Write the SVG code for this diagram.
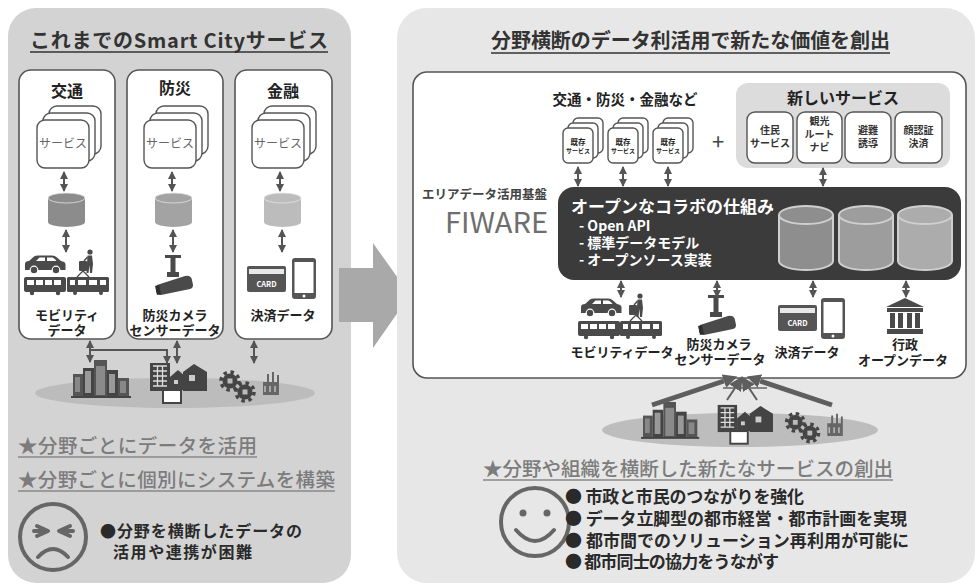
<svg xmlns="http://www.w3.org/2000/svg" width="980" height="585" viewBox="0 0 980 585">
<defs>
<style>
text { font-family: 'Noto Sans CJK JP', 'Noto Sans', sans-serif; }
.h { font-size: 20px; font-weight: 700; fill: #333; }
.ul { stroke: #333; stroke-width: 1.5; }
.ul2 { stroke: #888; stroke-width: 1.5; }
.sub { font-size: 19.5px; font-weight: 500; fill: #7c7c7c; }
.col { fill: #fff; stroke: #555; stroke-width: 1.6; }
.colh { font-size: 16px; font-weight: 700; fill: #222; text-anchor: middle; }
.svc { fill: #fff; stroke: #555; stroke-width: 1.4; }
.svct { font-size: 12px; fill: #666; text-anchor: middle; }
.lbl { font-size: 13px; font-weight: 700; fill: #222; text-anchor: middle; }
.dbl { stroke: #555; stroke-width: 2; fill: none; marker-start: url(#ah); marker-end: url(#ah); }
.one { stroke: #555; stroke-width: 2; fill: none; marker-end: url(#ah); }
.ico { fill: #4a4a4a; }
.nsv { font-size: 10px; font-weight: 700; fill: #333; text-anchor: middle; }
.wt { fill: #fff; font-weight: 700; }
.bul { font-size: 17px; font-weight: 700; fill: #2a2a2a; }
.face { fill: none; stroke: #666; stroke-width: 4; stroke-linecap: round; stroke-linejoin: round; }
</style>
<marker id="ah" viewBox="0 0 8 8" refX="7" refY="4" markerWidth="8" markerHeight="8" markerUnits="userSpaceOnUse" orient="auto-start-reverse">
<path d="M0,0 L8,4 L0,8 Z" fill="#555"/>
</marker>
<marker id="big" viewBox="0 -7 14 14" refX="0" refY="0" markerWidth="14" markerHeight="14" markerUnits="userSpaceOnUse" orient="auto">
<path d="M0,-7 L14,0 L0,7 Z" fill="#5e5e5e"/>
</marker>

<!-- stacked service cards, left panel -->
<g id="stackL">
<rect x="12" y="-14" width="52" height="48" rx="8" class="svc"/>
<rect x="6" y="-7" width="52" height="48" rx="8" class="svc"/>
<rect x="0" y="0" width="52" height="48" rx="8" class="svc"/>
<text x="26" y="28" class="svct">サービス</text>
</g>
<!-- small stacked cards, right panel -->
<g id="stackR">
<rect x="10" y="-10" width="30" height="35" rx="5" class="svc"/>
<rect x="5" y="-5" width="30" height="35" rx="5" class="svc"/>
<rect x="0" y="0" width="30" height="35" rx="5" class="svc"/>
<text font-weight="700" fill="#222" text-anchor="middle"><tspan x="15" y="17" font-size="7.5">既存</tspan><tspan x="15" y="25" font-size="6">サービス</tspan></text>
</g>

<!-- database cylinder, 37 x 34 -->
<g id="cyl">
<path d="M0,5 L0,29 A18.5,5 0 0 0 37,29 L37,5 Z"/>
<ellipse cx="18.5" cy="5" rx="18.5" ry="5" stroke="#e4e4e4" stroke-width="0.8"/>
</g>
<!-- large cylinder, 56 x 66 -->
<g id="cylB">
<path d="M1,10 L1,56 A27,9 0 0 0 55,56 L55,10" stroke="#cfcfcf" stroke-width="2"/>
<ellipse cx="28" cy="10" rx="27" ry="9" stroke="#cfcfcf" stroke-width="2"/>
</g>

<g id="car">
<path d="M1,15 L1,9 Q1,6 5,6 L10,1.5 Q11.5,0.5 14,0.5 L28,0.5 Q31,0.5 33,2.5 L37,6 Q41,6.5 41.5,9 L41.5,15 Z" class="ico"/>
<path d="M12,6 L15.5,2.5 L21,2.5 L21,6 Z M23,6 L23,2.5 L28,2.5 Q30,2.5 32.5,6 Z" fill="#fff"/>
<circle cx="10" cy="15" r="3.8" class="ico" stroke="#fff" stroke-width="1.2"/>
<circle cx="32" cy="15" r="3.8" class="ico" stroke="#fff" stroke-width="1.2"/>
</g>
<g id="person">
<circle cx="12" cy="3" r="2.6" class="ico"/>
<path d="M9.5,6.5 L14,6.5 L15,15 L14,24 L12,24 L11.5,16 L10.5,24 L8.5,24 L9,14 Z" class="ico"/>
<path d="M9.5,8 L6,12" stroke="#4a4a4a" stroke-width="1.5"/>
<rect x="1" y="12" width="8" height="10" rx="1" class="ico"/>
</g>
<g id="bus">
<rect x="0" y="0" width="42" height="15" rx="2" class="ico"/>
<rect x="3" y="3" width="7" height="5" fill="#fff"/>
<rect x="12" y="3" width="7" height="5" fill="#fff"/>
<rect x="21" y="3" width="7" height="5" fill="#fff"/>
<rect x="30" y="3" width="7" height="5" fill="#fff"/>
<circle cx="8" cy="16" r="2.2" class="ico"/>
<circle cx="34" cy="16" r="2.2" class="ico"/>
</g>
<g id="train">
<path d="M10,0 L16,-6 L22,0" stroke="#4a4a4a" stroke-width="1.3" fill="none"/>
<rect x="0" y="0" width="42" height="15" rx="1.5" class="ico"/>
<rect x="3" y="3" width="5" height="5" fill="#fff"/>
<rect x="11" y="3" width="8" height="5" fill="#fff"/>
<rect x="22" y="3" width="8" height="5" fill="#fff"/>
<rect x="33" y="3" width="6" height="5" fill="#fff"/>
<circle cx="8" cy="16" r="2" class="ico"/>
<circle cx="34" cy="16" r="2" class="ico"/>
</g>
<g id="camera">
<rect x="10" y="0" width="16" height="3" class="ico"/>
<rect x="15.5" y="3" width="5" height="15" class="ico"/>
<rect x="12" y="17" width="12" height="5" class="ico"/>
<path d="M2,30 L30,21 Q36,20 37,25 L38,30 Q38,33 35,34 L6,40 Q2,40 1,36 Z" class="ico"/>
<path d="M0,31 L4,30 L6,39 L2,40 Z" fill="#2e2e2e"/>
</g>
<g id="card">
<rect x="0" y="0" width="39" height="26" rx="2" fill="#555"/>
<rect x="2" y="3" width="35" height="5" fill="#e8e8e8"/>
<text x="19.5" y="21" font-size="7.5" text-anchor="middle" class="wt" font-family="'Liberation Sans', sans-serif">CARD</text>
</g>
<g id="phone">
<rect x="0" y="0" width="24" height="41" rx="3" fill="#555"/>
<rect x="2.5" y="4" width="19" height="31" fill="#fff"/>
<circle cx="12" cy="38" r="1.5" fill="#fff"/>
</g>
<g id="bank">
<path d="M19,0 L38,9 L0,9 Z" class="ico"/>
<rect x="1" y="10" width="36" height="4" class="ico"/>
<rect x="4" y="15" width="5" height="15" class="ico"/>
<rect x="12" y="15" width="5" height="15" class="ico"/>
<rect x="21" y="15" width="5" height="15" class="ico"/>
<rect x="29" y="15" width="5" height="15" class="ico"/>
<rect x="1" y="31" width="36" height="5" class="ico"/>
</g>
<g id="gear">
<circle r="7.5" fill="#444"/>
<circle r="9" fill="none" stroke="#444" stroke-width="3.5" stroke-dasharray="3.5 3.6"/>
<rect x="-2.5" y="-2.5" width="5" height="5" fill="#bbb"/>
</g>
<!-- town skyline: towers, office, houses, factory -->
<g id="city">
<rect x="0" y="14" width="10" height="23" fill="#555"/>
<rect x="2" y="17" width="5" height="15" fill="#888"/>
<rect x="10" y="8" width="11" height="29" fill="#444"/>
<rect x="12" y="11" width="6" height="22" fill="#999"/>
<rect x="21" y="0" width="13" height="37" fill="#555"/>
<rect x="23" y="6" width="9" height="29" fill="#8a8a8a"/>
<rect x="34" y="10" width="11" height="27" fill="#444"/>
<rect x="36" y="14" width="6" height="19" fill="#999"/>
<rect x="45" y="18" width="11" height="19" fill="#555"/>
<rect x="47" y="21" width="6" height="12" fill="#888"/>
<rect x="-2" y="36" width="60" height="2" fill="#444"/>
<rect x="77" y="3" width="20" height="28" fill="#444"/>
<path d="M80,6 h14 M80,11 h14 M80,16 h14 M80,21 h14 M80,26 h14 M84.5,6 v20 M89.5,6 v20" stroke="#ddd" stroke-width="1.3"/>
<rect x="90" y="30" width="18" height="13" fill="#fff" stroke="#444" stroke-width="2"/>
<path d="M97,17 L105,10 L113,17 L113,30 L97,30 Z" fill="#444"/>
<rect x="101" y="20" width="4" height="4" fill="#ccc"/>
<path d="M110,12 L121,4 L134,12 L134,31 L110,31 Z" fill="#444"/>
<rect x="116" y="15" width="6" height="6" fill="#ccc"/>
<use href="#gear" x="157" y="21"/>
<use href="#gear" x="172" y="32"/>
<path d="M190,35 L190,22 L194,22 L194,14 L196,14 L196,22 L199,22 L199,12 L201,12 L201,22 L204,22 L204,15 L206,15 L206,35 Z" fill="#666"/>
<path d="M192,26 v6 M197,26 v6 M202,26 v6" stroke="#ccc" stroke-width="1.3"/>
</g>
</defs>

<rect width="980" height="585" fill="#fff"/>

<!-- left panel: current services -->
<g id="panel-current">
<rect x="8" y="8" width="343" height="575" rx="28" fill="#d3d3d3"/>
<text x="30" y="48" class="h" textLength="298">これまでのSmart Cityサービス</text>
<line x1="30" y1="52" x2="328" y2="52" class="ul"/>
</g>

<g id="col-transport">
<rect x="19" y="70" width="96" height="269" rx="12" class="col"/>
<text x="67" y="97" class="colh">交通</text>
<use href="#stackL" x="37" y="120"/>
<use href="#cyl" x="48" y="193" fill="#8c8c8c"/>
<use href="#car" x="24" y="255"/>
<use href="#person" x="78" y="249"/>
<use href="#bus" x="24" y="277"/>
<use href="#train" x="67" y="277"/>
<text class="lbl"><tspan x="67" y="320">モビリティ</tspan><tspan x="67" y="335">データ</tspan></text>
</g>

<g id="col-disaster">
<rect x="127" y="70" width="96" height="269" rx="12" class="col"/>
<text x="175" y="94" class="colh">防災</text>
<use href="#stackL" x="144" y="120"/>
<use href="#cyl" x="155" y="193" fill="#a3a3a3"/>
<use href="#camera" x="155" y="255"/>
<text class="lbl"><tspan x="175" y="320">防災カメラ</tspan><tspan x="175" y="335">センサーデータ</tspan></text>
</g>

<g id="col-finance">
<rect x="235" y="70" width="97" height="269" rx="12" class="col"/>
<text x="283" y="97" class="colh">金融</text>
<use href="#stackL" x="252" y="120"/>
<use href="#cyl" x="264" y="193" fill="#bcbcbc"/>
<use href="#card" x="247" y="266"/>
<use href="#phone" x="292" y="258"/>
<text x="283" y="320" class="lbl">決済データ</text>
</g>

<g id="town-left">
<ellipse cx="175" cy="393" rx="140" ry="15" fill="#bcbcbc"/>
<use href="#city" x="73" y="360"/>
</g>

<g id="notes-current">
<text x="18" y="453" class="sub" textLength="239">★分野ごとにデータを活用</text>
<line x1="18" y1="457" x2="257" y2="457" class="ul2"/>
<text x="18" y="487" class="sub" textLength="317">★分野ごとに個別にシステムを構築</text>
<line x1="18" y1="491" x2="335" y2="491" class="ul2"/>
<circle cx="53" cy="537" r="33" class="face"/>
<path d="M37,526 L48,531 L37,536 M34,531 L44,531" class="face" stroke-width="3.5"/>
<path d="M70,526 L59,531 L70,536 M73,531 L63,531" class="face" stroke-width="3.5"/>
<path d="M38,557 Q53,541 68,557" class="face"/>
<text font-size="16" font-weight="700" fill="#2a2a2a"><tspan x="100" y="537" textLength="202">●分野を横断したデータの</tspan><tspan x="113" y="558" textLength="139">活用や連携が困難</tspan></text>
</g>

<!-- transition arrow -->
<polygon id="shift-arrow" points="339,268 373,268 373,243 410,295 373,348 373,322 339,322" fill="#a9a9a9"/>

<!-- right panel: cross-domain platform -->
<g id="panel-future">
<rect x="397" y="8" width="578" height="575" rx="30" fill="#e7e7e7"/>
<text x="491" y="48" class="h" textLength="399">分野横断のデータ利活用で新たな価値を創出</text>
<line x1="491" y1="53" x2="890" y2="53" class="ul"/>
<rect x="413" y="72" width="553" height="306" rx="14" class="col"/>
</g>

<g id="existing-services">
<text x="625" y="105" font-size="14.5" font-weight="700" fill="#222" text-anchor="middle">交通・防災・金融など</text>
<use href="#stackR" x="563" y="128"/>
<use href="#stackR" x="608" y="128"/>
<use href="#stackR" x="653" y="128"/>
<text x="718" y="150" font-size="22" fill="#444" text-anchor="middle" font-family="'Liberation Sans', sans-serif">+</text>
</g>

<g id="new-services">
<rect x="736" y="83" width="214" height="85" rx="12" fill="#dcdcdc"/>
<text x="843" y="104" font-size="16" font-weight="700" fill="#222" text-anchor="middle">新しいサービス</text>
<rect x="747" y="112" width="46" height="51" rx="8" class="svc"/>
<text class="nsv"><tspan x="770" y="134">住民</tspan><tspan x="770" y="147">サービス</tspan></text>
<rect x="797" y="112" width="45" height="51" rx="8" class="svc"/>
<text class="nsv"><tspan x="819.5" y="125">観光</tspan><tspan x="819.5" y="138">ルート</tspan><tspan x="819.5" y="151">ナビ</tspan></text>
<rect x="845" y="112" width="46" height="51" rx="8" class="svc"/>
<text class="nsv"><tspan x="868" y="134">避難</tspan><tspan x="868" y="147">誘導</tspan></text>
<rect x="895" y="112" width="47" height="51" rx="8" class="svc"/>
<text class="nsv"><tspan x="918.5" y="134">顔認証</tspan><tspan x="918.5" y="147">決済</tspan></text>
</g>

<g id="fiware">
<text x="547" y="199" font-size="12.5" font-weight="700" fill="#444" text-anchor="end" textLength="125">エリアデータ活用基盤</text>
<text x="548" y="233" font-size="29" fill="#6e6e6e" text-anchor="end" font-family="'Liberation Sans', sans-serif">FIWARE</text>
<rect x="558" y="187" width="403" height="93" rx="16" fill="#3b3b3b"/>
<text class="wt"><tspan x="571" y="213" font-size="17">オープンなコラボの仕組み</tspan><tspan x="579" y="231" font-size="14">- Open API</tspan><tspan x="579" y="248" font-size="14">- 標準データモデル</tspan><tspan x="579" y="265" font-size="14">- オープンソース実装</tspan></text>
<use href="#cylB" x="778" y="205" fill="#8e8e8e"/>
<use href="#cylB" x="838" y="205" fill="#9d9d9d"/>
<use href="#cylB" x="897" y="205" fill="#acacac"/>
</g>

<g id="data-sources">
<use href="#car" x="580" y="298"/>
<use href="#person" x="628" y="293"/>
<use href="#bus" x="578" y="321"/>
<use href="#train" x="620" y="321"/>
<text x="622" y="357" class="lbl">モビリティデータ</text>
<use href="#camera" x="698" y="295"/>
<text class="lbl"><tspan x="719" y="349">防災カメラ</tspan><tspan x="720" y="364">センサーデータ</tspan></text>
<use href="#card" x="778" y="305"/>
<use href="#phone" x="821" y="298"/>
<text x="807" y="357" class="lbl">決済データ</text>
<use href="#bank" x="886" y="298"/>
<text class="lbl"><tspan x="905" y="349">行政</tspan><tspan x="903" y="365">オープンデータ</tspan></text>
</g>

<g id="town-right">
<ellipse cx="740" cy="430" rx="138" ry="17" fill="#bdbdbd"/>
<use href="#city" transform="translate(643,402) scale(0.97)"/>
</g>

<g id="notes-future">
<text x="483" y="476" class="sub" textLength="410">★分野や組織を横断した新たなサービスの創出</text>
<line x1="483" y1="480" x2="893" y2="480" class="ul2"/>
<circle cx="535" cy="522" r="34" class="face"/>
<circle cx="523" cy="513" r="3.5" fill="#666"/>
<circle cx="547" cy="513" r="3.5" fill="#666"/>
<path d="M516,530 Q535,552 554,530" class="face"/>
<text class="bul"><tspan x="565" y="503" textLength="239">● 市政と市民のつながりを強化</tspan><tspan x="565" y="525" textLength="342">● データ立脚型の都市経営・都市計画を実現</tspan><tspan x="565" y="547" textLength="344">● 都市間でのソリューション再利用が可能に</tspan><tspan x="565" y="568" textLength="214">● 都市同士の協力をうながす</tspan></text>
</g>

<g id="connectors">
<!-- left panel -->
<line x1="64" y1="172" x2="64" y2="191" class="dbl"/>
<line x1="172" y1="172" x2="172" y2="191" class="dbl"/>
<line x1="280" y1="172" x2="280" y2="191" class="dbl"/>
<line x1="66" y1="230" x2="66" y2="252" class="dbl"/>
<line x1="173" y1="230" x2="173" y2="252" class="dbl"/>
<line x1="282" y1="230" x2="282" y2="252" class="dbl"/>
<line x1="90" y1="341" x2="90" y2="362" class="dbl"/>
<path d="M90,350 H167 V363" class="one"/>
<line x1="177" y1="341" x2="177" y2="363" class="dbl"/>
<line x1="254" y1="341" x2="254" y2="363" class="dbl"/>
<!-- right panel -->
<line x1="578" y1="167" x2="578" y2="186" class="dbl"/>
<line x1="623" y1="167" x2="623" y2="186" class="dbl"/>
<line x1="668" y1="167" x2="668" y2="186" class="dbl"/>
<line x1="823" y1="168" x2="823" y2="186" class="dbl"/>
<line x1="621" y1="281" x2="621" y2="297" class="dbl"/>
<line x1="717" y1="281" x2="717" y2="297" class="dbl"/>
<line x1="813" y1="281" x2="813" y2="297" class="dbl"/>
<line x1="906" y1="281" x2="906" y2="297" class="dbl"/>
<!-- converging inflow from the town -->
<line x1="723" y1="388" x2="767" y2="388" stroke="#666" stroke-width="1.5"/>
<line x1="652" y1="405" x2="724" y2="381" stroke="#5e5e5e" stroke-width="5" marker-end="url(#big)"/>
<line x1="832" y1="405" x2="760" y2="381" stroke="#5e5e5e" stroke-width="5" marker-end="url(#big)"/>
<line x1="727" y1="400" x2="735" y2="388" stroke="#5e5e5e" stroke-width="2" marker-end="url(#big)"/>
<line x1="757" y1="400" x2="749" y2="388" stroke="#5e5e5e" stroke-width="2" marker-end="url(#big)"/>
</g>
</svg>
